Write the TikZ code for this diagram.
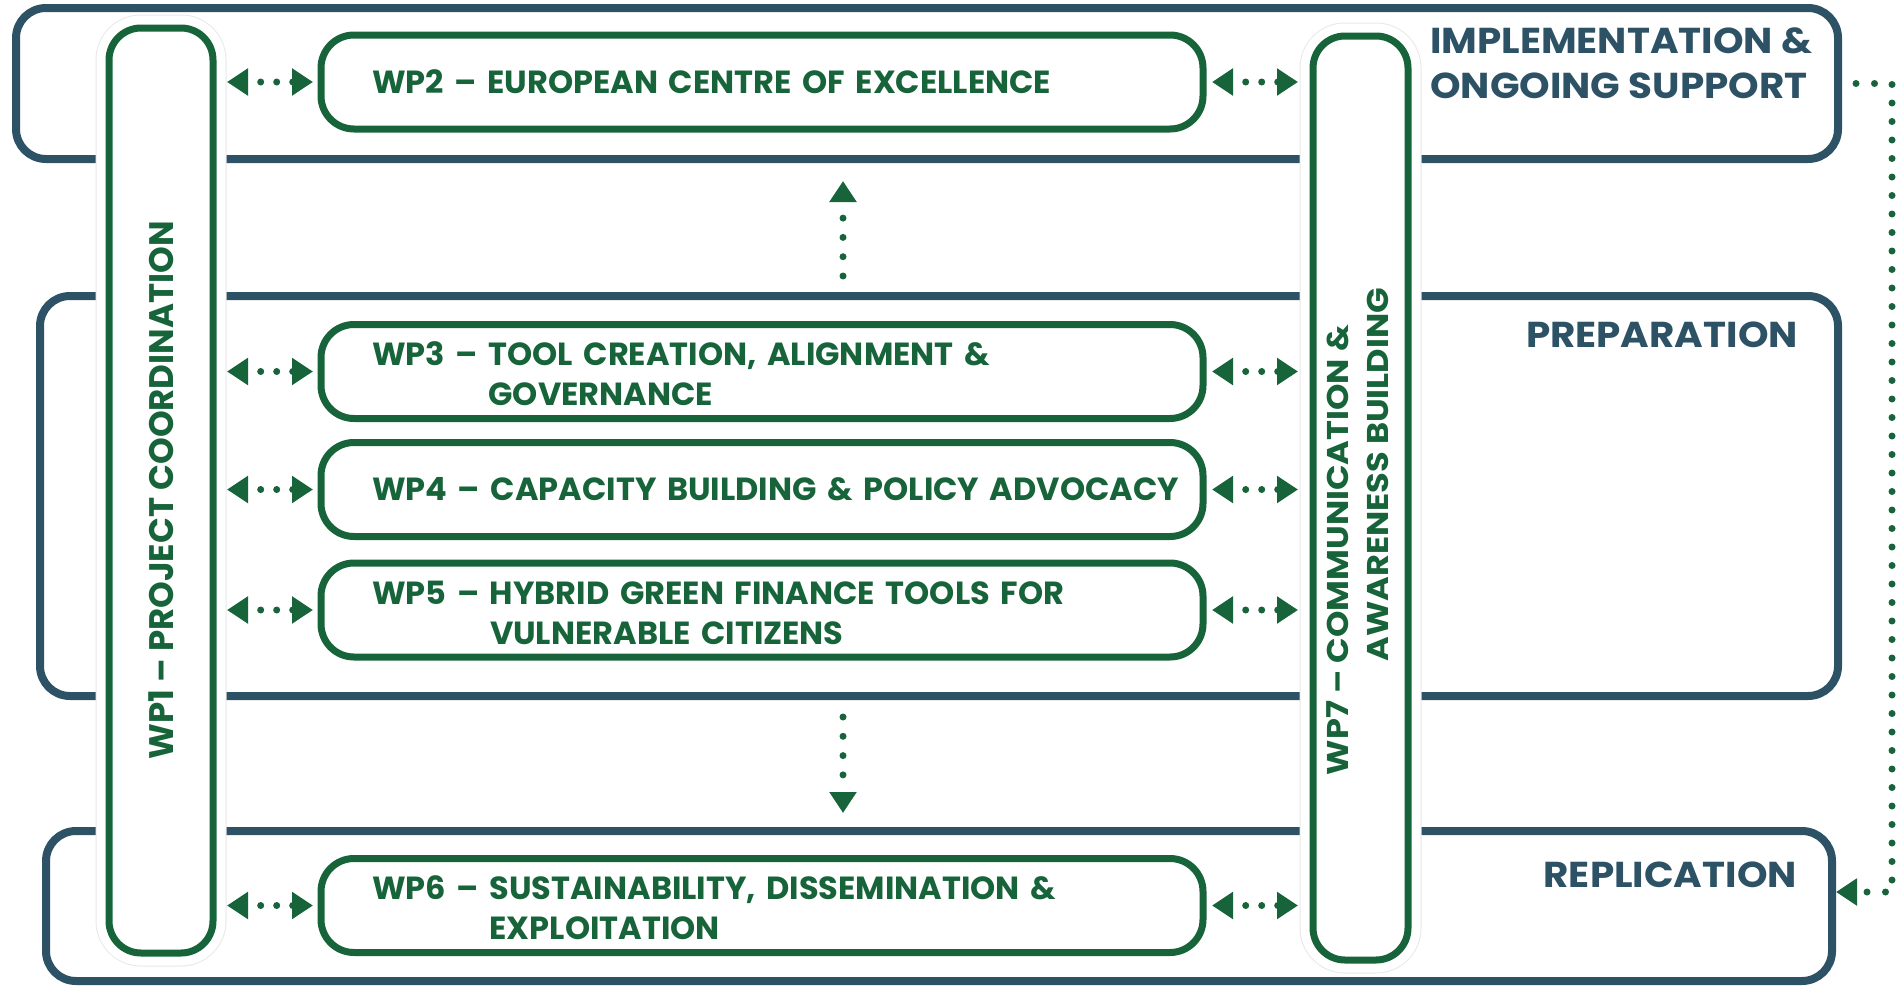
\documentclass[tikz,border=0pt]{standalone}
\usepackage{fontspec}
\setmainfont{Poppins}
\newfontfamily\widefont{Poppins}[Ligatures=TeX,FakeStretch=1.08]
\newfontfamily\widerfont{Poppins}[Ligatures=TeX,FakeStretch=1.12]
\usepackage{tikz}
\usetikzlibrary{arrows.meta}
\definecolor{phaseblue}{HTML}{2D5266}
\definecolor{wpgreen}{HTML}{17643A}
\newcommand{\wptab}[3]{\raisebox{-6pt}[\height][\depth]{\begin{tabular}{@{}l@{\ }l@{}}#1&#2\\&#3\end{tabular}}}

\begin{document}
\begin{tikzpicture}[x=1pt,y=-1pt,
    >={Triangle[length=21pt,width=26pt]},
    phase/.style={draw=phaseblue,line width=8pt,rounded corners=30pt,inner sep=0pt},
    phaselabel/.style={text=phaseblue,inner sep=0pt,align=left,font=\widefont\fontsize{36}{45}\selectfont\bfseries},
    column/.style={draw=wpgreen,line width=7pt,rounded corners=32pt,fill=white,inner sep=0pt,
        preaction={draw=black!9,line width=27pt},preaction={draw=white,line width=25pt}},
    coltext/.style={text=wpgreen,inner sep=0pt,font=\fontsize{34}{40}\selectfont\bfseries},
    wpbox/.style={draw=wpgreen,line width=7pt,rounded corners=33pt,fill=white,
        minimum width=882pt,minimum height=94pt,text width=780pt,inner xsep=51pt,inner ysep=0pt,
        align=left,text=wpgreen,font=\fontsize{32}{40}\selectfont\bfseries},
    dotpair/.style={wpgreen,line width=7pt,line cap=round,dash pattern=on 0pt off 16pt,dash phase=2pt,<->},
    dotline/.style={wpgreen,line width=7pt,line cap=round,dash pattern=on 0pt off 19.3pt,->}]
    \useasboundingbox (0,0) rectangle (1903,985);
    \coordinate (spine) at (843,0);
    \coordinate (side) at (1892,0);

    \node[phase,minimum width=1822pt,minimum height=151pt] (impl) at (927,83.5) {};
    \node[phase,minimum width=1798pt,minimum height=400pt] (prep) at (939,496) {};
    \node[phase,minimum width=1786pt,minimum height=150pt] (repl) at (939,906) {};
    \node[phaselabel,anchor=west] (impllabel) at (1430,63) {IMPLEMENTATION \&\\ONGOING SUPPORT};
    \node[phaselabel,anchor=east] (preplabel) at (1798,334.5) {PREPARATION};
    \node[phaselabel,anchor=east] (repllabel) at (1797,875) {REPLICATION};

    \node[column,minimum width=104pt,minimum height=925pt] (wp1) at (161,490.5) {};
    \node[column,minimum width=95pt,minimum height=924pt] (wp7) at (1360.5,498) {};
    \node[coltext,rotate=90] (wp1text) at (wp1.center) {WP1 -- PROJECT COORDINATION};
    \node[coltext,rotate=90,align=right,font=\widerfont\fontsize{30}{40}\selectfont\bfseries] (wp7text) at (1358,531.5)
        {WP7 -- COMMUNICATION \&\hspace*{37pt}\\AWARENESS BUILDING};

    \node[wpbox] (wp2) at (762,82) {\mbox{WP2 -- EUROPEAN CENTRE OF EXCELLENCE}};
    \node[wpbox] (wp3) at (762,371.5) {\wptab{WP3 --}{TOOL CREATION, ALIGNMENT \&}{GOVERNANCE}};
    \node[wpbox] (wp4) at (762,489.5) {\mbox{WP4 -- CAPACITY BUILDING \& POLICY ADVOCACY}};
    \node[wpbox] (wp5) at (762,610) {\wptab{WP5 --}{HYBRID GREEN FINANCE TOOLS FOR}{VULNERABLE CITIZENS}};
    \node[wpbox] (wp6) at (762,905.5) {\wptab{WP6 --}{SUSTAINABILITY, DISSEMINATION \&}{EXPLOITATION}};

    \foreach \wp in {wp2,wp3,wp4,wp5,wp6}{
        \draw[dotpair,shorten <=10.5pt,shorten >=4.5pt] (wp1.east |- \wp.west) -- (\wp.west);
        \draw[dotpair,shorten <=5.5pt,shorten >=11.5pt] (\wp.east) -- (\wp.east -| wp7.west);
    }

    \draw[dotline,shorten <=16pt,shorten >=18pt] (prep.north -| spine) -- (impl.south -| spine);
    \draw[dotline,shorten <=17pt,shorten >=14pt] (prep.south -| spine) -- (repl.north -| spine);
    \draw[dotline,dash pattern=on 0pt off 18.5pt] ([xshift=14pt]impl.east) -| ([yshift=14pt]repl.east -| side) -- ([yshift=14pt]repl.east);
\end{tikzpicture}
\end{document}
